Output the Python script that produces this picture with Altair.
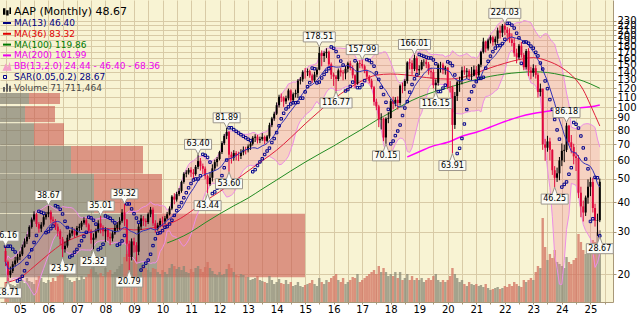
import altair as alt
import pandas as pd

# ---------------- monthly prices (Jul 2004 .. May 2025) ----------------
first_open = 25.0
close_by_year = {
    2004: [22.5, 19.8, 20.6, 22.0, 22.8, 23.6],
    2005: [24.2, 26.0, 27.4, 28.6, 31.5, 33.8, 35.6, 32.4, 31.0, 32.2, 34.6, 35.6],
    2006: [36.4, 33.8, 33.4, 31.6, 30.2, 28.0, 25.4, 26.3, 28.4, 29.6, 30.4, 29.2],
    2007: [31.2, 31.6, 32.8, 33.6, 32.2, 30.4, 27.8, 28.4, 30.2, 32.6, 31.4, 30.2],
    2008: [30.6, 28.6, 28.2, 29.6, 31.2, 32.2, 33.4, 36.2, 33.8, 26.8, 23.6, 27.4],
    2009: [26.4, 24.8, 31.6, 34.2, 33.4, 33.0, 35.6, 37.2, 32.6, 31.0, 32.0, 33.4],
    2010: [33.2, 34.2, 35.6, 37.6, 42.2, 41.0, 43.2, 44.6, 48.6, 52.6, 53.2, 54.6],
    2011: [53.2, 52.4, 56.2, 59.4, 56.6, 55.2, 51.4, 47.6, 50.6, 55.4, 58.8, 60.6],
    2012: [64.8, 70.6, 75.8, 78.6, 63.2, 61.4, 64.2, 62.6, 62.4, 64.6, 66.2, 66.0],
    2013: [68.4, 70.2, 74.4, 75.2, 72.6, 73.4, 75.0, 72.2, 75.4, 84.0, 89.6, 93.8],
    2014: [101.8, 110.4, 109.6, 105.6, 108.8, 117.4, 106.8, 113.2, 114.6, 129.0, 130.6, 140.4],
    2015: [140.0, 141.2, 135.6, 129.4, 136.8, 143.4, 168.4, 163.6, 168.2, 170.4, 151.0, 136.6],
    2016: [134.2, 131.0, 142.4, 139.6, 138.4, 144.6, 152.4, 145.6, 135.8, 125.4, 152.6, 151.4],
    2017: [148.2, 141.4, 134.0, 128.8, 121.0, 105.2, 100.6, 88.8, 89.2, 74.6, 89.4, 90.0],
    2018: [105.8, 103.2, 107.2, 104.0, 122.8, 122.4, 128.6, 153.8, 152.6, 144.2, 160.2, 142.4],
    2019: [144.2, 154.2, 154.6, 151.0, 141.2, 140.0, 123.4, 126.4, 150.2, 150.4, 142.6, 146.2],
    2020: [121.4, 121.0, 84.2, 111.2, 127.0, 128.8, 142.4, 140.6, 141.8, 134.0, 135.2, 143.4],
    2021: [136.0, 150.4, 170.2, 188.0, 175.8, 190.2, 196.0, 186.8, 193.2, 209.2, 204.6, 219.0],
    2022: [210.8, 204.2, 191.8, 185.4, 168.2, 161.4, 180.6, 165.2, 146.8, 171.6, 142.2, 139.0],
    2023: [145.4, 136.4, 115.6, 119.4, 69.8, 67.6, 71.8, 66.2, 54.4, 50.6, 52.8, 59.8],
    2024: [65.6, 66.2, 83.6, 71.2, 68.0, 62.2, 61.2, 43.8, 38.4, 36.2, 41.8, 46.4],
    2025: [48.6, 37.8, 33.4, 33.6, 48.67],
}
high_by_year = {
    2004: [26.16, 22.8, 21.5, 22.6, 23.6, 24.3],
    2005: [24.9, 26.6, 28.2, 29.4, 32.0, 34.5, 36.6, 36.0, 33.0, 33.0, 35.3, 36.4],
    2006: [38.67, 37.0, 34.8, 34.0, 32.5, 30.8, 28.6, 27.4, 29.2, 30.6, 31.5, 31.0],
    2007: [31.8, 32.5, 33.4, 34.6, 34.2, 32.6, 30.8, 29.6, 31.0, 33.6, 35.01, 32.0],
    2008: [31.4, 31.2, 29.8, 30.4, 32.4, 33.0, 34.6, 37.4, 39.32, 34.0, 27.6, 28.2],
    2009: [28.4, 27.2, 32.4, 35.4, 35.0, 34.2, 36.2, 38.2, 38.0, 33.6, 32.8, 34.2],
    2010: [34.8, 35.0, 36.4, 38.4, 42.8, 43.6, 44.2, 45.8, 49.2, 53.4, 54.4, 55.6],
    2011: [56.0, 55.0, 57.2, 63.40, 61.2, 58.0, 56.4, 52.2, 53.4, 57.6, 60.2, 61.8],
    2012: [65.6, 72.0, 77.2, 81.89, 79.4, 65.0, 66.0, 65.4, 65.0, 66.6, 68.4, 68.2],
    2013: [69.8, 71.6, 75.6, 77.0, 76.6, 75.2, 77.8, 76.0, 76.4, 86.0, 91.0, 95.6],
    2014: [104.6, 112.6, 114.0, 110.8, 111.6, 119.4, 118.6, 115.0, 118.4, 131.0, 133.6, 142.6],
    2015: [145.6, 145.0, 143.4, 138.0, 140.6, 146.6, 178.51, 172.6, 171.2, 176.2, 172.2, 153.6],
    2016: [139.4, 136.2, 145.0, 146.0, 143.0, 148.6, 154.8, 156.2, 149.4, 137.2, 155.4, 157.0],
    2017: [157.99, 150.6, 143.6, 136.0, 131.4, 122.6, 108.4, 102.2, 94.2, 90.4, 90.6, 95.2],
    2018: [108.4, 110.6, 110.0, 110.8, 124.4, 126.6, 130.8, 155.6, 159.6, 157.0, 166.01, 163.2],
    2019: [149.6, 157.6, 158.6, 160.4, 154.4, 146.2, 144.0, 130.6, 152.4, 154.6, 153.4, 148.6],
    2020: [146.8, 128.6, 122.8, 115.6, 129.6, 134.0, 147.6, 148.4, 145.6, 144.0, 147.2, 149.2],
    2021: [148.6, 151.6, 171.8, 195.0, 189.4, 193.4, 199.8, 198.6, 197.6, 215.0, 219.0, 222.6],
    2022: [224.03, 216.2, 213.6, 203.4, 194.8, 175.6, 183.6, 187.2, 168.2, 175.0, 176.4, 147.6],
    2023: [151.0, 149.6, 139.0, 125.4, 116.8, 73.6, 75.8, 74.4, 66.6, 56.6, 55.8, 61.8],
    2024: [70.4, 69.6, 86.18, 84.2, 76.4, 70.2, 64.8, 63.0, 46.4, 40.6, 42.6, 49.8],
    2025: [50.8, 50.6, 39.4, 35.8, 50.2],
}
low_by_year = {
    2004: [21.6, 18.71, 19.3, 20.2, 21.5, 22.3],
    2005: [22.9, 23.8, 25.8, 26.7, 28.0, 31.0, 33.2, 31.5, 29.8, 30.0, 31.6, 33.8],
    2006: [34.6, 32.6, 32.0, 30.6, 28.7, 26.5, 23.57, 24.6, 25.8, 27.8, 28.8, 28.4],
    2007: [28.8, 30.2, 30.6, 32.2, 31.4, 29.8, 26.8, 25.32, 27.9, 29.8, 29.6, 28.8],
    2008: [27.2, 27.6, 26.4, 27.4, 29.2, 30.2, 30.6, 32.8, 31.8, 22.6, 20.79, 22.8],
    2009: [24.6, 22.6, 24.0, 30.6, 31.8, 31.6, 32.4, 34.6, 31.8, 29.8, 30.4, 31.4],
    2010: [31.6, 32.4, 33.8, 35.2, 37.0, 39.2, 40.2, 42.4, 43.8, 47.8, 50.8, 52.2],
    2011: [51.0, 50.0, 51.6, 55.0, 54.2, 52.4, 49.8, 43.44, 46.8, 48.8, 54.0, 56.4],
    2012: [59.8, 63.6, 69.4, 73.4, 53.60, 58.0, 59.6, 59.8, 59.4, 60.6, 62.8, 63.4],
    2013: [64.6, 66.2, 69.0, 71.4, 70.4, 70.6, 72.2, 70.0, 71.2, 73.8, 82.4, 87.6],
    2014: [92.6, 99.6, 105.0, 100.2, 103.0, 106.6, 104.2, 104.6, 109.6, 109.0, 124.4, 127.6],
    2015: [131.6, 134.8, 132.6, 126.2, 127.4, 133.4, 142.6, 148.2, 154.4, 160.6, 148.2, 131.0],
    2016: [122.6, 116.77, 128.4, 134.2, 129.4, 130.6, 139.6, 142.4, 131.8, 120.6, 124.0, 145.4],
    2017: [145.0, 138.6, 130.2, 125.6, 118.8, 101.4, 97.0, 82.4, 80.6, 72.0, 70.15, 85.6],
    2018: [89.6, 97.8, 100.6, 97.6, 101.4, 114.2, 116.8, 125.4, 143.6, 136.4, 141.4, 137.0],
    2019: [136.2, 142.4, 148.2, 145.6, 136.6, 131.6, 119.6, 116.15, 122.8, 139.4, 137.2, 136.6],
    2020: [118.8, 115.0, 63.91, 81.0, 106.0, 115.8, 124.4, 136.4, 131.2, 129.6, 129.2, 134.4],
    2021: [131.8, 133.2, 146.8, 167.6, 169.4, 172.4, 184.6, 180.6, 181.0, 184.4, 193.6, 196.4],
    2022: [200.2, 188.6, 186.0, 179.6, 162.4, 152.4, 158.6, 161.0, 142.6, 143.6, 134.6, 130.6],
    2023: [134.0, 131.6, 109.6, 110.8, 66.2, 59.6, 65.0, 59.8, 52.0, 46.25, 48.6, 49.4],
    2024: [56.6, 58.8, 64.8, 69.0, 64.0, 57.6, 54.0, 41.6, 34.6, 33.2, 35.0, 39.4],
    2025: [42.4, 36.2, 31.6, 28.9, 33.0],
}
volume_by_year = {  # millions of shares per month
    2004: [20, 24, 18, 17, 16, 18],
    2005: [20, 22, 19, 24, 21, 20, 18, 22, 26, 24, 20, 19],
    2006: [22, 20, 24, 21, 26, 30, 34, 28, 24, 22, 20, 21],
    2007: [24, 22, 26, 23, 25, 28, 33, 35, 30, 27, 29, 26],
    2008: [34, 30, 32, 28, 30, 33, 36, 38, 45, 48, 44, 40],
    2009: [42, 45, 48, 40, 36, 34, 32, 30, 34, 33, 30, 28],
    2010: [32, 30, 28, 34, 38, 36, 33, 35, 32, 36, 30, 29],
    2011: [33, 30, 34, 36, 33, 30, 35, 40, 34, 31, 28, 27],
    2012: [30, 27, 28, 33, 38, 34, 30, 27, 26, 28, 27, 25],
    2013: [25, 22, 23, 24, 26, 22, 21, 20, 19, 26, 22, 18],
    2014: [20, 23, 19, 18, 22, 18, 20, 16, 17, 20, 16, 15],
    2015: [17, 18, 19, 22, 18, 16, 24, 20, 18, 22, 20, 24],
    2016: [26, 28, 22, 20, 24, 18, 20, 22, 25, 24, 28, 20],
    2017: [22, 24, 26, 28, 30, 32, 28, 36, 30, 34, 30, 26],
    2018: [28, 26, 30, 24, 30, 22, 24, 28, 22, 26, 22, 24],
    2019: [22, 24, 20, 22, 24, 22, 26, 28, 22, 20, 22, 20],
    2020: [22, 26, 34, 28, 24, 20, 22, 18, 16, 20, 18, 17],
    2021: [18, 16, 17, 15, 18, 14, 12, 13, 14, 15, 13, 14],
    2022: [16, 15, 18, 16, 20, 18, 16, 15, 22, 20, 22, 24],
    2023: [22, 30, 36, 34, 84, 55, 42, 48, 44, 52, 40, 38],
    2024: [36, 34, 45, 40, 38, 42, 44, 68, 60, 52, 48, 58],
    2025: [55, 62, 60, 70, 71.711464],
}

# moving averages (they need history before the visible window)
ma36_dates = ["2004-07", "2005-01", "2005-07", "2006-01", "2006-07", "2007-01", "2007-07", "2008-01",
              "2008-07", "2009-01", "2009-07", "2010-01", "2010-07", "2011-01", "2011-07", "2012-01",
              "2012-07", "2013-01", "2013-07", "2014-01", "2014-07", "2015-01", "2015-07", "2016-01",
              "2016-07", "2017-01", "2017-07", "2018-01", "2018-07", "2019-01", "2019-07", "2020-01",
              "2020-07", "2021-01", "2021-07", "2022-01", "2022-07", "2023-01", "2023-07", "2024-01",
              "2024-07", "2024-10", "2025-01", "2025-05"]
ma36_vals = [18.4, 19.3, 21.5, 24.2, 26.8, 28.6, 30.0, 30.9, 31.0, 30.6, 31.0, 31.9, 33.5, 36.6, 40.4,
             44.2, 48.8, 54.0, 59.6, 66.0, 74.5, 85.0, 96.0, 108.0, 119.0, 129.0, 136.0, 137.5, 136.5,
             134.0, 132.0, 131.0, 133.0, 139.0, 146.0, 152.5, 158.0, 161.0, 156.0, 146.0, 130.0, 118.0,
             102.0, 83.32]
ma100_dates = ["2010-03", "2010-07", "2011-01", "2011-07", "2012-01", "2012-07", "2013-01", "2013-07",
               "2014-01", "2014-07", "2015-01", "2015-07", "2016-01", "2016-07", "2017-01", "2017-07",
               "2018-01", "2018-07", "2019-01", "2019-07", "2020-01", "2020-07", "2021-01", "2021-07",
               "2022-01", "2022-07", "2023-01", "2023-07", "2024-01", "2024-07", "2025-01", "2025-05"]
ma100_vals = [27.0, 28.0, 30.0, 32.8, 35.7, 38.6, 41.6, 45.4, 49.5, 54.0, 58.8, 63.6, 68.7, 74.6, 80.9,
              88.0, 95.0, 103.0, 110.0, 115.5, 120.5, 125.5, 130.5, 134.5, 137.5, 139.5, 140.5, 139.5,
              136.0, 131.5, 125.0, 119.86]
ma200_dates = ["2018-08", "2019-01", "2019-07", "2020-01", "2020-07", "2021-01", "2021-07", "2022-01",
               "2022-07", "2023-01", "2023-07", "2024-01", "2024-07", "2025-01", "2025-05"]
ma200_vals = [61.8, 65.0, 68.8, 71.2, 75.5, 78.4, 82.5, 87.0, 91.0, 94.0, 96.0, 98.0, 99.0, 100.2, 101.99]

# volume-by-price bands (price range, grey part, red part)
vbp_lo = [19.4, 36.0, 52.7, 69.0, 86.5, 103.0]
vbp_hi = [35.8, 52.4, 68.7, 85.6, 101.0, 114.5]
vbp_grey = [1570, 940, 710, 340, 250, 290]
vbp_red = [1480, 680, 720, 300, 300, 310]

# swing annotations
hi_labels = ["26.16", "38.67", "35.01", "39.32", "63.40", "81.89", "178.51", "157.99", "166.01", "224.03", "86.18"]
hi_dates = ["2004-07-01", "2006-01-01", "2007-11-01", "2008-09-01", "2011-04-01", "2012-04-01",
            "2015-07-01", "2017-01-01", "2018-11-01", "2022-01-01", "2024-03-01"]
lo_labels = ["18.71", "23.57", "25.32", "20.79", "43.44", "53.60", "116.77", "70.15", "116.15", "63.91", "46.25", "28.67"]
lo_dates = ["2004-08-01", "2006-07-01", "2007-08-01", "2008-11-01", "2011-08-01", "2012-05-01",
            "2016-02-01", "2017-11-01", "2019-08-01", "2020-03-01", "2023-10-01", "2025-05-01"]

legend_labels = ["AAP (Monthly) 48.67", "MA(13) 46.40", "MA(36) 83.32", "MA(100) 119.86", "MA(200) 101.99",
                 "BB(13,2.0) 24.44 - 46.40 - 68.36", "SAR(0.05,0.2) 28.67", "Volume 71,711,464"]
y_ticks = [20, 30, 40, 50, 60, 70, 80, 90, 100, 110, 120, 130, 140, 150, 160, 170, 180, 190, 200, 210, 220, 230]

# ---------------- styles ----------------
FONT = "DejaVu Sans"
BG = "#f8f3d3"
GRID = "#d8caa6"
AXISC = "#a89878"
UPC = "#000000"
DNC = "#e0083c"
legend_colors = ["#000000", "#000080", "#e00000", "#007a00", "#ee00ee", "#ee00ee", "#000080", "#484848"]

# ---------------- build tables ----------------
dates, closes, highs, lows, vols = [], [], [], [], []
for yr in sorted(close_by_year):
    m0 = 7 if yr == 2004 else 1
    for k in range(len(close_by_year[yr])):
        dates.append(f"{yr}-{m0 + k:02d}-01")
    closes += close_by_year[yr]
    highs += high_by_year[yr]
    lows += low_by_year[yr]
    vols += volume_by_year[yr]
opens = [first_open] + closes[:-1]
highs = [max(h, o, c) for h, o, c in zip(highs, opens, closes)]
lows = [min(l, o, c) for l, o, c in zip(lows, opens, closes)]


def parabolic_sar(hs, ls, step=0.05, max_af=0.2):
    out = [hs[0]]
    bull, af, ep = False, step, ls[0]
    for i in range(1, len(hs)):
        s = out[-1] + af * (ep - out[-1])
        if bull:
            s = min(s, ls[i - 1], ls[i - 2] if i > 1 else ls[i - 1])
            if ls[i] < s:
                bull, s, ep, af = False, ep, ls[i], step
            elif hs[i] > ep:
                ep, af = hs[i], min(af + step, max_af)
        else:
            s = max(s, hs[i - 1], hs[i - 2] if i > 1 else hs[i - 1])
            if hs[i] > s:
                bull, s, ep, af = True, ep, hs[i], step
            elif ls[i] < ep:
                ep, af = ls[i], min(af + step, max_af)
        out.append(s)
    return out


price_df = pd.DataFrame(dict(date=dates, open=opens, high=highs, low=lows, close=closes,
                             volume=vols, sar=parabolic_sar(highs, lows)))
ma36_df = pd.DataFrame(dict(date=[d + "-01" for d in ma36_dates], v=ma36_vals))
ma100_df = pd.DataFrame(dict(date=[d + "-01" for d in ma100_dates], v=ma100_vals))
ma200_df = pd.DataFrame(dict(date=[d + "-01" for d in ma200_dates], v=ma200_vals))
vbp_df = pd.DataFrame(dict(lo=vbp_lo, hi=vbp_hi, a=vbp_grey, b=vbp_red))
hi_df = pd.DataFrame(dict(date=hi_dates, label=hi_labels, value=[float(s) for s in hi_labels]))
lo_df = pd.DataFrame(dict(date=lo_dates, label=lo_labels, value=[float(s) for s in lo_labels]))
legend_df = pd.DataFrame(dict(row=list(range(len(legend_labels))), label=legend_labels, color=legend_colors))

# ---------------- scales & axes ----------------
xscale = alt.Scale(type="utc", nice=False,
                   domain=[alt.DateTime(year=2004, month=6, date=24, utc=True),
                           alt.DateTime(year=2025, month=8, date=14, utc=True)])
yscale = alt.Scale(type="log", domain=[15.28, 280.6], nice=False)

xvals = [alt.DateTime(year=y, month=m, date=1, utc=True)
         for y in range(2004, 2026) for m in (1, 7) if (2004, 7) <= (y, m) <= (2025, 7)]
x_axis = alt.Axis(values=xvals, labelExpr="utcmonth(datum.value) == 0 ? utcFormat(datum.value, '%y') : ''",
                  grid=True, gridColor=GRID, gridWidth=1, tickSize=2, tickColor=AXISC, domainColor=AXISC,
                  labelFont=FONT, labelFontSize=10, labelColor="#000000", labelPadding=0, title=None,
                  labelFlush=False, labelOverlap=False)
y_axis = alt.Axis(orient="right", values=y_ticks, format="d", grid=True, gridColor=GRID, gridWidth=1,
                  tickSize=3, tickColor=AXISC, domainColor=AXISC, labelFont=FONT, labelFontSize=10,
                  labelColor="#000000", labelPadding=1, labelOverlap=False, labelFlush=False, title=None)

X = alt.X("date:T", scale=xscale, axis=x_axis)


def Y(field):
    return alt.Y(field, scale=yscale, axis=y_axis)


# ---------------- price layers ----------------
base = alt.Chart(price_df)
bb = base.transform_window(ma13="mean(close)", sd13="stdevp(close)", frame=[-12, 0],
                           sort=[alt.SortField("date")]).transform_calculate(
    bbu="datum.ma13 + 2 * datum.sd13", bbl="max(datum.ma13 - 2 * datum.sd13, 5)")
bb_area = bb.mark_area(color="#f07f95", opacity=0.28, clip=True).encode(x=X, y=Y("bbl:Q"), y2="bbu:Q")
bb_up = bb.mark_line(color="#ec8ee6", strokeWidth=1, clip=True).encode(x=X, y=Y("bbu:Q"))
bb_lo = bb.mark_line(color="#ec8ee6", strokeWidth=1, clip=True).encode(x=X, y=Y("bbl:Q"))
ma13 = bb.mark_line(color="#3030b8", strokeWidth=1, clip=True).encode(x=X, y=Y("ma13:Q"))
ma200 = alt.Chart(ma200_df).mark_line(color="#ff00ff", strokeWidth=1.5, interpolate="monotone").encode(x=X, y=Y("v:Q"))
ma100 = alt.Chart(ma100_df).mark_line(color="#228b22", strokeWidth=1, interpolate="monotone").encode(x=X, y=Y("v:Q"))
ma36 = alt.Chart(ma36_df).mark_line(color="#e0203c", strokeWidth=1, interpolate="monotone").encode(x=X, y=Y("v:Q"))

cbase = base.transform_calculate(col=f"datum.close >= datum.open ? '{UPC}' : '{DNC}'")
wicks = cbase.mark_rule(strokeWidth=1).encode(x=X, y=Y("low:Q"), y2="high:Q",
                                              color=alt.Color("col:N", scale=None))
bodies = cbase.mark_bar(size=2).encode(x=X, y=Y("open:Q"), y2="close:Q",
                                       color=alt.Color("col:N", scale=None))
sar = base.mark_point(shape="square", size=6, filled=False, color="#00008c", strokeWidth=1,
                      opacity=1).encode(x=X, y=Y("sar:Q"))

hi5 = "M-2.7,-1H2.7V1H0.5L0,2L-0.5,1H-2.7Z"
hi6 = "M-3.2,-1H3.2V1H0.5L0,2L-0.5,1H-3.2Z"
lo5 = "M-2.7,-1H-0.5L0,-2.4L0.5,-1H2.7V1H-2.7Z"
lo6 = "M-3.2,-1H-0.5L0,-2.4L0.5,-1H3.2V1H-3.2Z"
hi_boxes = alt.Chart(hi_df).transform_calculate(
    shp=f"length(datum.label) > 5 ? '{hi6}' : '{hi5}'").mark_point(
    filled=True, fill="#fbfbf5", stroke="#9c968c", strokeWidth=1, size=100, opacity=1, yOffset=-10
).encode(x=X, y=Y("value:Q"), shape=alt.Shape("shp:N", scale=None))
lo_boxes = alt.Chart(lo_df).transform_calculate(
    shp=f"length(datum.label) > 5 ? '{lo6}' : '{lo5}'").mark_point(
    filled=True, fill="#fbfbf5", stroke="#9c968c", strokeWidth=1, size=100, opacity=1, yOffset=12
).encode(x=X, y=Y("value:Q"), shape=alt.Shape("shp:N", scale=None))
hi_text = alt.Chart(hi_df).mark_text(font=FONT, fontSize=8, dy=-10, color="#000000").encode(
    x=X, y=Y("value:Q"), text="label:N")
lo_text = alt.Chart(lo_df).mark_text(font=FONT, fontSize=8, dy=12, color="#000000").encode(
    x=X, y=Y("value:Q"), text="label:N")

price = alt.layer(bb_area, bb_up, bb_lo, ma200, ma100, ma36, wicks, bodies, ma13, sar,
                  hi_boxes, lo_boxes, hi_text, lo_text)

# ---------------- volume & volume-by-price ----------------
vol = alt.Chart(price_df).transform_calculate(
    vcol="datum.close >= datum.open ? '#8a8876' : '#d2705f'").mark_bar(size=2.4, opacity=0.75).encode(
    x=alt.X("date:T", scale=xscale, axis=None),
    y=alt.Y("volume:Q", scale=alt.Scale(domain=[0, 302], nice=False), axis=None),
    color=alt.Color("vcol:N", scale=None))

vbp_x = alt.Scale(domain=[0, 6130], nice=False, zero=False)
vbp_a = alt.Chart(vbp_df).transform_calculate(x0="0").mark_rect(color="#6e6d63", opacity=0.6).encode(
    x=alt.X("x0:Q", scale=vbp_x, axis=None), x2="a:Q",
    y=alt.Y("lo:Q", scale=yscale, axis=None), y2="hi:Q")
vbp_b = alt.Chart(vbp_df).transform_calculate(x1="datum.a + datum.b").mark_rect(color="#ca564f", opacity=0.6).encode(
    x=alt.X("a:Q", scale=vbp_x, axis=None), x2="x1:Q",
    y=alt.Y("lo:Q", scale=yscale, axis=None), y2="hi:Q")
vbp = alt.layer(vbp_a, vbp_b)

# ---------------- legend ----------------
leg = alt.Chart(legend_df).transform_calculate(
    ly="datum.row == 0 ? 11.5 : 12.2 + datum.row * 10.8",
    fs="datum.row == 0 ? 11 : 9")
leg_text = leg.mark_text(align="left", baseline="middle", font=FONT).encode(
    x=alt.value(14), y=alt.Y("ly:Q", scale=None), text="label:N",
    color=alt.Color("color:N", scale=None), size=alt.Size("fs:Q", scale=None))
icon_line = "M-1,0H1"
leg_lines = leg.transform_filter("datum.row >= 1 && datum.row <= 4").mark_point(
    shape=icon_line, size=64, filled=False, strokeWidth=2, opacity=1).encode(
    x=alt.value(7), y=alt.Y("ly:Q", scale=None), color=alt.Color("color:N", scale=None))
leg_aap = leg.transform_filter("datum.row == 0").mark_point(
    shape="M-1,-0.8H-0.4V0.8H-1ZM-0.2,-0.3H0.4V1H-0.2ZM0.6,-1H1V0.6H0.6Z", size=64, filled=True,
    color="#000000", opacity=1).encode(x=alt.value(7), y=alt.Y("ly:Q", scale=None))
leg_bb = leg.transform_filter("datum.row == 5").mark_point(
    shape="M-1,1L-0.3,-0.6L0.2,0.2L0.6,-1L1,1Z", size=81, filled=True, color="#f4a0c8",
    opacity=1).encode(x=alt.value(7), y=alt.Y("ly:Q", scale=None))
leg_sar = leg.transform_filter("datum.row == 6").mark_point(
    shape="square", size=9, filled=False, color="#00008c", strokeWidth=1, opacity=1).encode(
    x=alt.value(5), y=alt.Y("ly:Q", scale=None))
leg_vol = leg.transform_filter("datum.row == 7").mark_point(
    shape="M-1,1V-0.2H-0.5V1ZM-0.25,1V-1H0.25V1ZM0.5,1V-0.5H1V1Z", size=64, filled=True,
    color="#606060", opacity=1).encode(x=alt.value(7), y=alt.Y("ly:Q", scale=None))
legend = alt.layer(leg_text, leg_lines, leg_aap, leg_bb, leg_sar, leg_vol)

chart = alt.layer(vbp, vol, price, legend).resolve_scale(
    x="independent", y="independent").properties(
    width=613, height=302, background="#ffffff",
    autosize=alt.AutoSizeParams(type="none"),
    padding={"left": 0, "top": 0, "right": 24, "bottom": 12},
).configure_view(fill=BG, stroke=None)

chart.save("out.html", embed_options={"renderer": "svg", "actions": False})
